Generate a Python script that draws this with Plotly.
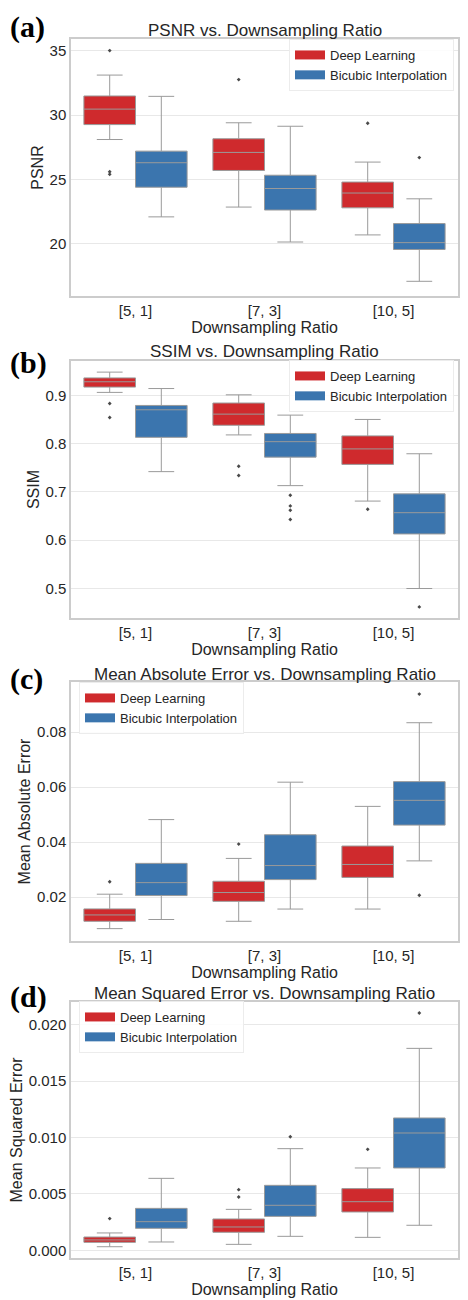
import plotly.graph_objects as go

# ---------------- data ----------------
categories = ["[5, 1]", "[7, 3]", "[10, 5]"]
methods = ["Deep Learning", "Bicubic Interpolation"]

# PSNR
psnr_dl_q1 = [29.26, 25.70, 22.80]
psnr_dl_med = [30.46, 27.10, 23.95]
psnr_dl_q3 = [31.48, 28.16, 24.80]
psnr_dl_lo = [28.10, 22.86, 20.70]
psnr_dl_hi = [33.10, 29.40, 26.35]
psnr_dl_out = [[35.0, 25.6, 25.4], [32.75], [29.36]]
psnr_bi_q1 = [24.40, 22.63, 19.57]
psnr_bi_med = [26.30, 24.30, 20.10]
psnr_bi_q3 = [27.20, 25.33, 21.58]
psnr_bi_lo = [22.10, 20.15, 17.10]
psnr_bi_hi = [31.45, 29.13, 23.50]
psnr_bi_out = [[], [], [26.70]]

# SSIM
ssim_dl_q1 = [0.917, 0.838, 0.757]
ssim_dl_med = [0.928, 0.861, 0.789]
ssim_dl_q3 = [0.936, 0.884, 0.816]
ssim_dl_lo = [0.906, 0.818, 0.681]
ssim_dl_hi = [0.948, 0.901, 0.850]
ssim_dl_out = [[0.883, 0.854], [0.753, 0.734], [0.664]]
ssim_bi_q1 = [0.813, 0.772, 0.613]
ssim_bi_med = [0.870, 0.804, 0.657]
ssim_bi_q3 = [0.879, 0.821, 0.696]
ssim_bi_lo = [0.742, 0.713, 0.500]
ssim_bi_hi = [0.914, 0.859, 0.779]
ssim_bi_out = [[], [0.693, 0.671, 0.662, 0.643], [0.462]]

# Mean Absolute Error
mae_dl_q1 = [0.01125, 0.0185, 0.0272]
mae_dl_med = [0.01356, 0.0217, 0.0319]
mae_dl_q3 = [0.01575, 0.0258, 0.0386]
mae_dl_lo = [0.00858, 0.01125, 0.0157]
mae_dl_hi = [0.0211, 0.0341, 0.0530]
mae_dl_out = [[0.0256], [0.0393], []]
mae_bi_q1 = [0.0206, 0.0264, 0.0462]
mae_bi_med = [0.0253, 0.0315, 0.0552]
mae_bi_q3 = [0.0323, 0.0427, 0.0620]
mae_bi_lo = [0.0119, 0.0157, 0.0332]
mae_bi_hi = [0.0482, 0.0618, 0.0834]
mae_bi_out = [[], [], [0.0938, 0.0207]]

# Mean Squared Error
mse_dl_q1 = [0.00071, 0.00160, 0.00340]
mse_dl_med = [0.00092, 0.00207, 0.00431]
mse_dl_q3 = [0.00118, 0.00278, 0.00547]
mse_dl_lo = [0.00032, 0.00053, 0.00115]
mse_dl_hi = [0.00154, 0.00363, 0.00730]
mse_dl_out = [[0.00281], [0.00538, 0.00473], [0.00895]]
mse_bi_q1 = [0.00195, 0.00301, 0.00730]
mse_bi_med = [0.00254, 0.00399, 0.01040]
mse_bi_q3 = [0.00372, 0.00576, 0.01173]
mse_bi_lo = [0.00074, 0.00124, 0.00222]
mse_bi_hi = [0.00638, 0.00901, 0.01790]
mse_bi_out = [[], [0.01007], [0.02103]]

panels = [
    dict(letter="(a)", title="PSNR vs. Downsampling Ratio", ylabel="PSNR",
         dl=(psnr_dl_q1, psnr_dl_med, psnr_dl_q3, psnr_dl_lo, psnr_dl_hi, psnr_dl_out),
         bi=(psnr_bi_q1, psnr_bi_med, psnr_bi_q3, psnr_bi_lo, psnr_bi_hi, psnr_bi_out),
         yrange=[15.96, 35.9], dtick=5, fmt="d", tick0=20,
         dom=(39, 296), legend_left=289, legend_top=39, letter_y=19, title_y=31),
    dict(letter="(b)", title="SSIM vs. Downsampling Ratio", ylabel="SSIM",
         dl=(ssim_dl_q1, ssim_dl_med, ssim_dl_q3, ssim_dl_lo, ssim_dl_hi, ssim_dl_out),
         bi=(ssim_bi_q1, ssim_bi_med, ssim_bi_q3, ssim_bi_lo, ssim_bi_hi, ssim_bi_out),
         yrange=[0.439, 0.971], dtick=0.1, fmt=".1f", tick0=0.5,
         dom=(361, 618), legend_left=289, legend_top=360, letter_y=362, title_y=352),
    dict(letter="(c)", title="Mean Absolute Error vs. Downsampling Ratio", ylabel="Mean Absolute Error",
         dl=(mae_dl_q1, mae_dl_med, mae_dl_q3, mae_dl_lo, mae_dl_hi, mae_dl_out),
         bi=(mae_bi_q1, mae_bi_med, mae_bi_q3, mae_bi_lo, mae_bi_hi, mae_bi_out),
         yrange=[0.00409, 0.0982], dtick=0.02, fmt=".2f", tick0=0,
         dom=(682, 941), legend_left=79, legend_top=682, letter_y=678, title_y=674),
    dict(letter="(d)", title="Mean Squared Error vs. Downsampling Ratio", ylabel="Mean Squared Error",
         dl=(mse_dl_q1, mse_dl_med, mse_dl_q3, mse_dl_lo, mse_dl_hi, mse_dl_out),
         bi=(mse_bi_q1, mse_bi_med, mse_bi_q3, mse_bi_lo, mse_bi_hi, mse_bi_out),
         yrange=[-0.00068, 0.02201], dtick=0.005, fmt=".3f", tick0=0,
         dom=(1002, 1258), legend_left=79, legend_top=1001, letter_y=996, title_y=993),
]

# ---------------- style ----------------
PAGE_W, PAGE_H = 468, 1300
BODY = 8  # default page margin around the plot div
W, H = PAGE_W - BODY, PAGE_H - BODY
colors = {"Deep Learning": "#cf2a2d", "Bicubic Interpolation": "#3b75ae"}
offsets = {"Deep Learning": -0.2, "Bicubic Interpolation": 0.2}
BOX_W = 0.4
LINE_C = "#9a9a9a"
TEXT_C = "#262626"
SANS = "Liberation Sans, Arial, sans-serif"
SERIF = "Liberation Serif, Times New Roman, serif"
LETTER_SIZE = 30
LETTER_HALF = 17  # approx half height of the letter's text box


def px(x):
    return (x - BODY) / W


def py(y):
    return 1 - (y - BODY) / H


X_DOM = [px(71), px(458)]

fig = go.Figure()
annotations = []
layout = {}

for i, p in enumerate(panels):
    n = "" if i == 0 else str(i + 1)
    xa, ya = "x" + n, "y" + n
    leg = "legend" + n
    for m, key in zip(methods, ["dl", "bi"]):
        q1, med, q3, lo, hi, out = p[key]
        xs = [k + offsets[m] for k in range(len(categories))]
        fig.add_trace(go.Box(
            x=xs, q1=q1, median=med, q3=q3, lowerfence=lo, upperfence=hi,
            width=BOX_W, whiskerwidth=0.5, fillcolor=colors[m],
            line=dict(color=LINE_C, width=1), boxpoints=False,
            name=m, showlegend=False, xaxis=xa, yaxis=ya, hoverinfo="skip"))
        ox, oy = [], []
        for k, vals in enumerate(out):
            for v in vals:
                ox.append(k + offsets[m])
                oy.append(v)
        fig.add_trace(go.Scatter(
            x=ox, y=oy, mode="markers",
            marker=dict(symbol="diamond", size=3, color="#4a4a4a"),
            showlegend=False, xaxis=xa, yaxis=ya, hoverinfo="skip"))
        # legend entry (wide patch)
        fig.add_trace(go.Scatter(
            x=[None], y=[None], mode="lines", name=m,
            line=dict(color=colors[m], width=9),
            showlegend=True, legend=leg, xaxis=xa, yaxis=ya))

    top, bot = p["dom"]
    layout["xaxis" + n] = dict(
        domain=X_DOM, anchor=ya, range=[-0.5, 2.5],
        tickmode="array", tickvals=list(range(len(categories))), ticktext=categories,
        showgrid=False, zeroline=False, showline=True, mirror=True,
        linecolor="#cccccc", linewidth=1.5, ticks="",
        tickfont=dict(family=SANS, size=15, color=TEXT_C),
        title=dict(text="Downsampling Ratio", standoff=0,
                   font=dict(family=SANS, size=16, color=TEXT_C)))
    layout["yaxis" + n] = dict(
        domain=[py(bot), py(top)], anchor=xa, range=p["yrange"],
        tick0=p["tick0"], dtick=p["dtick"], tickformat=p["fmt"],
        showgrid=True, gridcolor="#e8e8e8", gridwidth=1, zeroline=False,
        showline=True, mirror=True, linecolor="#cccccc", linewidth=1.5, ticks="",
        tickfont=dict(family=SANS, size=15, color=TEXT_C),
        title=dict(text=p["ylabel"], standoff=2,
                   font=dict(family=SANS, size=16, color=TEXT_C)))
    layout[leg] = dict(
        x=px(p["legend_left"]), xanchor="left", y=py(p["legend_top"]), yanchor="top",
        bgcolor="rgba(255,255,255,0.85)", bordercolor="#ececec", borderwidth=1,
        font=dict(family=SANS, size=13, color=TEXT_C), itemwidth=30,
        tracegroupgap=0)
    annotations.append(dict(
        text=p["title"], x=px(264.5), y=py(p["title_y"]), xref="paper", yref="paper",
        xanchor="center", yanchor="middle", showarrow=False,
        font=dict(family=SANS, size=17, color=TEXT_C)))
    letter_top = max(BODY + 1, p["letter_y"] - LETTER_HALF)
    annotations.append(dict(
        text="<b>" + p["letter"] + "</b>", x=px(BODY + 1), y=py(letter_top),
        xref="paper", yref="paper", xanchor="left", yanchor="top", showarrow=False,
        borderpad=0,
        font=dict(family=SERIF, size=LETTER_SIZE, color="#000000")))

fig.update_layout(
    width=W, height=H, margin=dict(l=0, r=0, t=0, b=0),
    paper_bgcolor="white", plot_bgcolor="white",
    annotations=annotations, **layout)

fig.write_html("out.html")
